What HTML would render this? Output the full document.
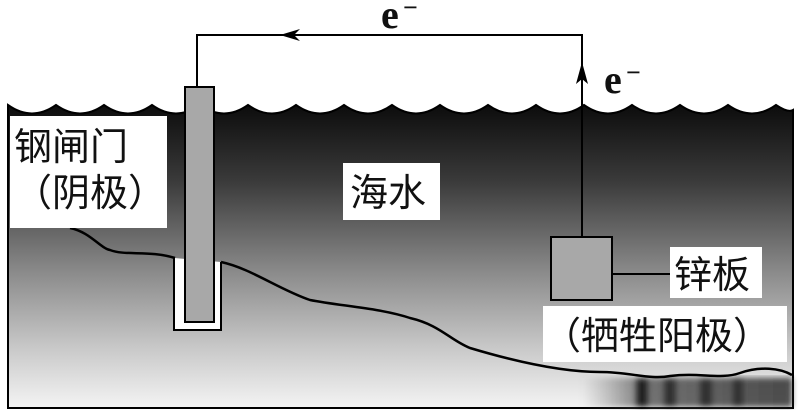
<!DOCTYPE html>
<html><head><meta charset="utf-8"><style>
html,body{margin:0;padding:0;background:#fff;width:800px;height:418px;overflow:hidden}
svg{display:block}
text{font-family:"Liberation Serif","Noto Serif CJK SC",serif}
.cj{font-family:"Liberation Sans","Noto Sans CJK SC",sans-serif;font-size:38px;fill:#111}
</style></head><body>
<svg width="800" height="418" viewBox="0 0 800 418" xmlns="http://www.w3.org/2000/svg">
<defs>
<linearGradient id="g" x1="0" y1="0" x2="0" y2="1">
<stop offset="0" stop-color="#0c0c0c"/>
<stop offset="0.25" stop-color="#3a3a3a"/>
<stop offset="0.55" stop-color="#8a8a8a"/>
<stop offset="0.8" stop-color="#c8c8c8"/>
<stop offset="1" stop-color="#f4f4f4"/>
</linearGradient>
<linearGradient id="bl" x1="0" y1="0" x2="1" y2="0">
<stop offset="0" stop-color="#777" stop-opacity="0"/>
<stop offset="0.3" stop-color="#555"/>
<stop offset="1" stop-color="#222"/>
</linearGradient>
<filter id="blur"><feGaussianBlur stdDeviation="3"/></filter>
</defs>
<path d="M8,105 Q32,122 56,105 Q80,122 104,105 Q128,122 152,105 Q176,122 200,105 Q224,122 248,105 Q272,122 296,105 Q320,122 344,105 Q368,122 392,105 Q416,122 440,105 Q464,122 488,105 Q512,122 536,105 Q560,122 584,105 Q608,122 632,105 Q656,122 680,105 Q704,122 728,105 Q752,122 776,105 Q788,113 793,110 L793,408 L8,408 Z" fill="url(#g)" stroke="#000" stroke-width="2"/>
<g filter="url(#blur)">
<rect x="582" y="378" width="210" height="29" fill="url(#bl)" opacity="0.8"/>
<rect x="636" y="378" width="12" height="29" fill="#222"/>
<rect x="664" y="378" width="12" height="29" fill="#333"/>
<rect x="700" y="378" width="12" height="29" fill="#333"/>
<rect x="733" y="378" width="10" height="29" fill="#333"/>
</g>
<path d="M70,228 C90,232 100,248 110,250 C125,256 150,250 175,258" fill="none" stroke="#000" stroke-width="2.5"/>
<path d="M221,262 C250,268 280,290 310,300 C340,306 380,308 410,318 C440,325 450,340 470,348 C510,360 560,372 600,372 C630,372 650,380 670,376 C700,372 720,380 740,373 C760,366 780,368 792,375" fill="none" stroke="#000" stroke-width="2.5"/>
<path d="M174,258 L174,330 L221,330 L221,262" fill="#fff" stroke="#000" stroke-width="2"/>
<rect x="185" y="87" width="29" height="235" fill="#a8a8a8" stroke="#000" stroke-width="2"/>
<polyline points="197,87 197,35 582,35 582,237" fill="none" stroke="#000" stroke-width="2"/>
<path d="M280,35 L300,29 L294,35 L300,41 Z" fill="#000"/>
<path d="M582,62 L576,84 L582,79 L588,84 Z" fill="#000"/>
<text x="381" y="28" font-size="40" font-weight="bold" fill="#111">e</text>
<text x="403" y="16" font-size="26" font-weight="bold" fill="#111">−</text>
<text x="604" y="93" font-size="40" font-weight="bold" fill="#111">e</text>
<text x="626" y="81" font-size="26" font-weight="bold" fill="#111">−</text>
<rect x="551" y="237" width="61" height="63" fill="#a8a8a8" stroke="#000" stroke-width="2"/>
<line x1="612" y1="274" x2="670" y2="274" stroke="#000" stroke-width="2"/>
<rect x="10" y="116" width="157" height="112" fill="#fff"/>
<text class="cj" x="14" y="160">钢闸门</text>
<text class="cj" x="14" y="206">（阴极）</text>
<rect x="343" y="163" width="97" height="57" fill="#fff"/>
<text class="cj" x="350" y="206">海水</text>
<rect x="670" y="247" width="92" height="51" fill="#fff"/>
<text class="cj" x="674" y="288">锌板</text>
<rect x="543" y="306" width="244" height="56" fill="#fff"/>
<text class="cj" x="543" y="349">（牺牲阳极）</text>
</svg>
</body></html>
